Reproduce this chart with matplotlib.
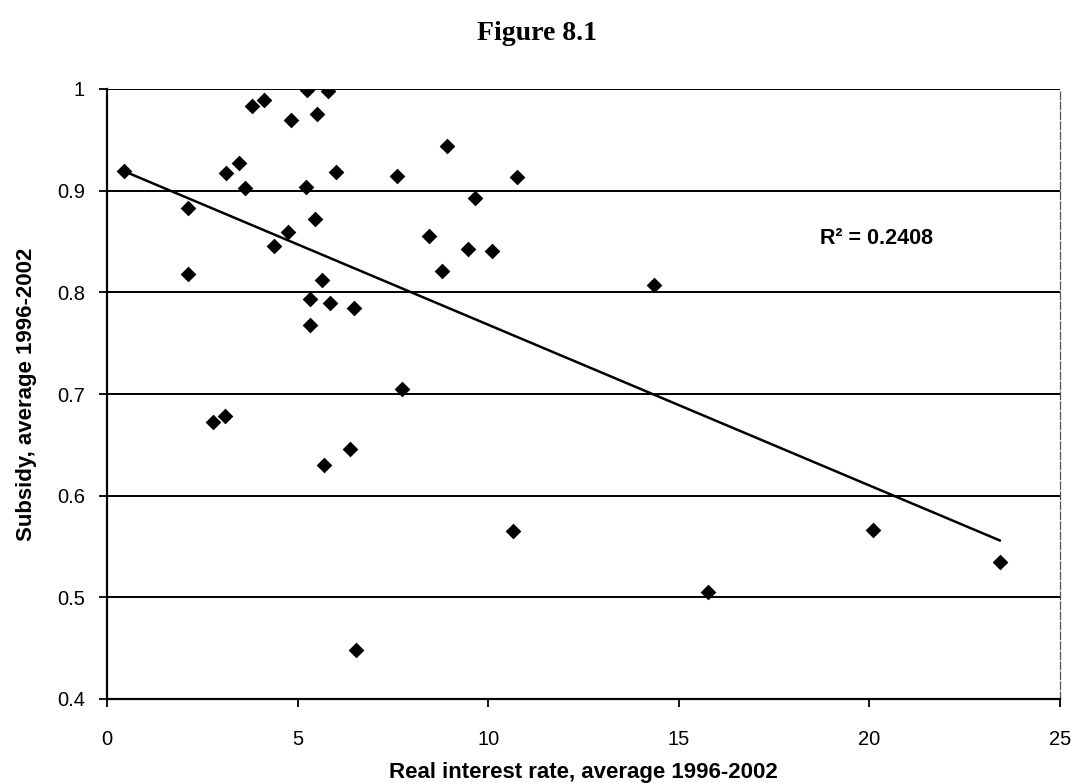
import numpy as np
import matplotlib
matplotlib.use("Agg")
import matplotlib.pyplot as plt

# Real interest rate (x) and subsidy (y), averages 1996-2002
interest_rate = [5.24, 5.79, 3.81, 4.13, 4.82, 5.52, 8.91, 0.45, 3.11, 3.45,
                 6.01, 7.62, 10.76, 3.62, 5.23, 9.65, 2.12, 5.45, 4.74, 4.37,
                 8.46, 9.46, 10.09, 2.12, 8.79, 5.63, 5.32, 5.84, 6.49, 5.32,
                 7.74, 2.79, 3.10, 6.38, 5.69, 10.64, 6.53, 14.35, 20.10, 23.42,
                 15.76]
subsidy = [0.999, 0.998, 0.983, 0.989, 0.970, 0.975, 0.944, 0.919, 0.917, 0.927,
           0.918, 0.914, 0.913, 0.903, 0.904, 0.893, 0.883, 0.872, 0.859, 0.846,
           0.855, 0.843, 0.841, 0.818, 0.821, 0.812, 0.793, 0.790, 0.785, 0.768,
           0.705, 0.672, 0.678, 0.646, 0.630, 0.565, 0.448, 0.807, 0.566, 0.535,
           0.505]

x_ticks = [0, 5, 10, 15, 20, 25]
y_ticks = [0.4, 0.5, 0.6, 0.7, 0.8, 0.9, 1.0]
y_tick_labels = ["0.4", "0.5", "0.6", "0.7", "0.8", "0.9", "1"]
r2_label = "R\u00b2 = 0.2408"

W, H = 1074, 783
fig = plt.figure(figsize=(W / 100, H / 100), dpi=100)
fig.patch.set_facecolor("white")

left, right, top, bottom = 107, 1060, 89, 699
ax = fig.add_axes([left / W, 1 - bottom / H, (right - left) / W, (bottom - top) / H])

x = np.array(interest_rate)
y = np.array(subsidy)

# horizontal gridlines
for yv in y_ticks[1:]:
    ax.axhline(yv, color="black", lw=1.4, zorder=1)

ax.scatter(x, y, marker="D", s=64, color="black", zorder=3, linewidths=0)

# linear trend line over the data range
slope, intercept = np.polyfit(x, y, 1)
xs = np.array([x.min(), x.max()])
ax.plot(xs, slope * xs + intercept, color="black", lw=1.8, zorder=2)

ax.text(18.7, 0.853, r2_label, fontsize=15.5, fontweight="bold",
        family="Liberation Sans", va="center", ha="left")

ax.set_xlim(0, 25)
ax.set_ylim(0.4, 1.0)
ax.set_xticks(x_ticks)
ax.set_xticklabels([str(t) for t in x_ticks])
ax.set_yticks(y_ticks)
ax.set_yticklabels(y_tick_labels)
ax.tick_params(direction="out", length=6, width=1.3, labelsize=14.5, colors="black")
ax.tick_params(axis="x", pad=16)
ax.tick_params(axis="y", pad=10)
for lab in ax.get_xticklabels() + ax.get_yticklabels():
    lab.set_family("Liberation Sans")

ax.spines["top"].set_visible(False)
ax.spines["left"].set_linewidth(1.6)
ax.spines["bottom"].set_linewidth(1.6)
ax.spines["right"].set_linewidth(0.9)
ax.spines["right"].set_linestyle((0, (6, 2)))
ax.spines["right"].set_color("#555555")

ax.set_xlabel("Real interest rate, average 1996-2002", fontsize=16, fontweight="bold",
              family="Liberation Sans", labelpad=10)
ax.set_ylabel("Subsidy, average 1996-2002", fontsize=16, fontweight="bold",
              family="Liberation Sans", labelpad=14)

fig.text(0.5, 1 - 33 / H, "Figure 8.1", ha="center", va="center", fontsize=20,
         fontweight="bold", family="Liberation Serif")

fig.savefig("out.png", dpi=100, facecolor="white")
